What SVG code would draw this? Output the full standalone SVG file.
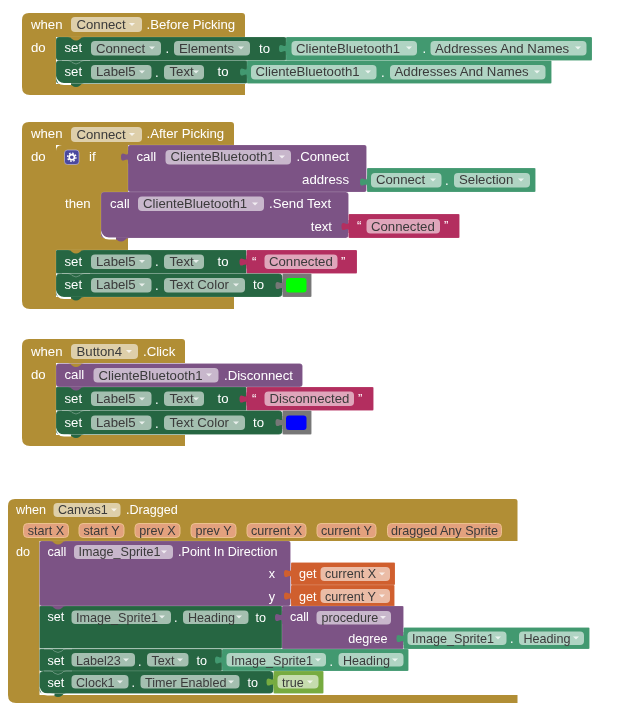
<svg xmlns="http://www.w3.org/2000/svg" width="630" height="715" viewBox="0 0 630 715">
<style>
text{font-family:"Liberation Sans",Arial,sans-serif;font-size:13.2px;fill:#fff}
.sm text{font-size:12.6px}
text.d{fill:#3a3a3a}
text.e{text-anchor:end}
text.m{text-anchor:middle}
.ev{fill:#b18e35}.st{fill:#266643}.pr{fill:#439970}.ca{fill:#7c5385}.tx{fill:#b32d5e}.gr{fill:#777}.lo{fill:#77ab41}.ge{fill:#d05f2d}
.b{stroke:#fff;stroke-opacity:.13;stroke-width:1}
.c{fill:#fff;fill-opacity:.58}
.p{fill:#e3a17e;stroke:#ecc08e;stroke-width:1}
.l{fill:none;stroke:#fff;stroke-opacity:.28;stroke-width:1}
#ar{fill:#fff;fill-opacity:.75}
</style>
<defs>
<path id="ar" d="M-3 -1.5H3L0 1.5Z"/>
<path id="tab" d="M1 0H0V2C0 8 -7 -2 -7 6.5S0 5 0 11V13H1Z"/>
<path id="bump" d="M-8 0Q-5 0 -4 2Q0 5 4 2Q5 0 8 0Z"/>
<path id="edge" class="l" d="M-14 0H-8Q-5 0 -4 2Q0 5 4 2Q5 0 8 0H14"/>
<path id="cres" fill="#fff" d="M0 -7Q0 2 8 2H15V0H8Q2 0 0 -7Z"/>
<filter id="soft" x="0" y="0" width="1" height="1"><feGaussianBlur stdDeviation="0.3"/></filter>
</defs>
<rect width="630" height="715" fill="#fff"/>
<g filter="url(#soft)">

<g id="block-connect-before-picking">
<path class="ev" d="M22 20Q22 13 29 13H242Q245 13 245 16V37H56V84H245V95H30Q22 95 22 87Z"/>
<text x="31" y="29">when</text>
<rect class="c" x="71" y="17" width="71" height="15" rx="4"/><text class="d" x="76.5" y="29">Connect</text><use href="#ar" x="132" y="24.5"/>
<text x="146.5" y="29">.Before Picking</text>
<text x="31" y="52">do</text>
<rect class="st b" x="56" y="37" width="231" height="23.5" rx="3"/>
<rect class="st b" x="56" y="60.5" width="192" height="23" rx="3"/>
<use href="#bump" class="ev" x="76" y="37"/><use href="#edge" x="76" y="60.5"/><use href="#bump" class="st" x="76" y="83.5"/>
<use href="#cres" x="56" y="83"/>
<text x="64.5" y="52">set</text>
<rect class="c" x="91" y="41" width="70" height="14.5" rx="4"/><text class="d" x="96" y="52.5">Connect</text><use href="#ar" x="152" y="48"/>
<text x="165.5" y="53">.</text>
<rect class="c" x="174" y="41" width="76" height="14.5" rx="4"/><text class="d" x="179" y="52.5">Elements</text><use href="#ar" x="241" y="48"/>
<text x="259" y="52.5">to</text>
<rect class="pr b" x="286" y="37" width="306" height="23.5" rx="1"/><use href="#tab" class="pr" x="286" y="42"/>
<rect class="c" x="291.5" y="41" width="125.5" height="14.5" rx="4"/><text class="d" x="296" y="52.5">ClienteBluetooth1</text><use href="#ar" x="409" y="48"/>
<text x="422.5" y="53">.</text>
<rect class="c" x="430.5" y="41" width="156" height="14.5" rx="4"/><text class="d" x="435" y="52.5">Addresses And Names</text><use href="#ar" x="578" y="48"/>
<text x="64.5" y="76">set</text>
<rect class="c" x="91" y="65" width="60.5" height="14.5" rx="4"/><text class="d" x="96" y="76">Label5</text><use href="#ar" x="142" y="72"/>
<text x="155" y="76.5">.</text>
<rect class="c" x="164" y="65" width="40" height="14.5" rx="4"/><text class="d" x="169.5" y="76">Text</text><use href="#ar" x="196" y="72"/>
<text x="217.5" y="76">to</text>
<rect class="pr b" x="247" y="60.5" width="304.5" height="23" rx="1"/><use href="#tab" class="pr" x="247" y="65.5"/>
<rect class="c" x="251" y="65" width="125.5" height="14.5" rx="4"/><text class="d" x="255.5" y="76">ClienteBluetooth1</text><use href="#ar" x="368" y="72"/>
<text x="381" y="76.5">.</text>
<rect class="c" x="390" y="65" width="155.5" height="14.5" rx="4"/><text class="d" x="394.5" y="76">Addresses And Names</text><use href="#ar" x="537" y="72"/>
</g>

<g id="block-connect-after-picking">
<path class="ev" d="M22 129Q22 122 29 122H231Q234 122 234 125V145H56V297H234V309H30Q22 309 22 301Z"/>
<text x="31" y="138">when</text>
<rect class="c" x="71" y="127" width="71" height="15" rx="4"/><text class="d" x="76.5" y="138.5">Connect</text><use href="#ar" x="132" y="134.5"/>
<text x="146.5" y="138">.After Picking</text>
<text x="31" y="160.5">do</text>
<g id="block-if">
<path class="ev" d="M56 151Q56 145 62 145H128V250H56Z"/>
<rect x="64.5" y="150" width="14.5" height="14.5" rx="3" fill="#4b4a9e" stroke="#c9c5e8" stroke-width=".6"/>
<circle cx="71.8" cy="157.2" r="2.6" fill="none" stroke="#fff" stroke-width="1.6"/>
<circle cx="71.8" cy="157.2" r="4.1" fill="none" stroke="#fff" stroke-width="1.4" stroke-dasharray="1.6 1.6"/>
<text x="89" y="160.5">if</text>
<text x="65" y="207.5">then</text>
</g>
<g id="block-call-connect">
<rect class="ca b" x="128" y="145" width="238.5" height="47" rx="2"/><use href="#tab" class="ca" x="128" y="150.5"/>
<text x="136.5" y="160.5">call</text>
<rect class="c" x="165.5" y="150" width="125.5" height="14.5" rx="4"/><text class="d" x="170.5" y="161">ClienteBluetooth1</text><use href="#ar" x="282" y="157"/>
<text x="296.5" y="161">.Connect</text>
<text class="e" x="349" y="184">address</text>
<rect class="pr b" x="367" y="168" width="168.5" height="24" rx="1"/><use href="#tab" class="pr" x="367" y="175.5"/>
<rect class="c" x="371" y="173" width="70.5" height="14.5" rx="4"/><text class="d" x="376" y="184">Connect</text><use href="#ar" x="433" y="180"/>
<text x="445" y="184.5">.</text>
<rect class="c" x="454" y="173" width="76" height="14.5" rx="4"/><text class="d" x="459" y="184">Selection</text><use href="#ar" x="521" y="180"/>
</g>
<g id="block-call-send-text">
<rect class="ca b" x="101" y="192" width="247.5" height="46" rx="3"/>
<use href="#bump" class="ca" x="121" y="238"/><use href="#cres" x="101" y="237.5"/>
<text x="110" y="208">call</text>
<rect class="c" x="138" y="196.5" width="126" height="14.5" rx="4"/><text class="d" x="143" y="208">ClienteBluetooth1</text><use href="#ar" x="255" y="204"/>
<text x="269" y="208">.Send Text</text>
<text class="e" x="332" y="230.5">text</text>
<rect class="tx b" x="348.5" y="214" width="111" height="24" rx="1"/><use href="#tab" class="tx" x="348.5" y="220"/>
<text x="357" y="230">“</text>
<rect class="c" x="366.5" y="219" width="73.5" height="14.5" rx="4"/><text class="d" x="371" y="230.5">Connected</text>
<text x="444" y="230">”</text>
</g>
<g id="block-set-label5-text-a">
<rect class="st b" x="56" y="250" width="190.5" height="23.5" rx="1"/><use href="#bump" class="ev" x="76" y="250"/>
<text x="64.5" y="265.5">set</text>
<rect class="c" x="91" y="254.5" width="60.5" height="14.5" rx="4"/><text class="d" x="96" y="265.5">Label5</text><use href="#ar" x="142" y="261.5"/>
<text x="155" y="266">.</text>
<rect class="c" x="164" y="254.5" width="40" height="14.5" rx="4"/><text class="d" x="169.5" y="265.5">Text</text><use href="#ar" x="196" y="261.5"/>
<text x="217.5" y="265.5">to</text>
<rect class="tx b" x="246.5" y="250" width="110.5" height="23.5" rx="1"/><use href="#tab" class="tx" x="246.5" y="255.5"/>
<text x="252" y="265.5">“</text>
<rect class="c" x="264.5" y="254.5" width="73" height="14.5" rx="4"/><text class="d" x="269" y="265.5">Connected</text>
<text x="341" y="265.5">”</text>
</g>
<g id="block-set-label5-color-a">
<rect class="st b" x="56" y="273.5" width="226.5" height="23.5" rx="4"/><use href="#edge" x="76" y="273.5"/><use href="#bump" class="st" x="76" y="297"/>
<use href="#cres" x="56" y="297"/>
<text x="64.5" y="289">set</text>
<rect class="c" x="91" y="278" width="60.5" height="14.5" rx="4"/><text class="d" x="96" y="289">Label5</text><use href="#ar" x="142" y="285"/>
<text x="155" y="289.5">.</text>
<rect class="c" x="164" y="278" width="81" height="14.5" rx="4"/><text class="d" x="169.5" y="289">Text Color</text><use href="#ar" x="236" y="285"/>
<text x="253" y="289">to</text>
<rect class="gr b" x="282.5" y="273.5" width="29" height="23.5" rx="1"/><use href="#tab" class="gr" x="282.5" y="279"/>
<rect x="286" y="278" width="20.5" height="14.5" rx="3" fill="#0f0"/>
</g>
</g>

<g id="block-button4-click">
<path class="ev" d="M22 346Q22 339 29 339H182Q185 339 185 342V363H56V435H185V446H30Q22 446 22 438Z"/>
<text x="31" y="356">when</text>
<rect class="c" x="71" y="344" width="67" height="15" rx="4"/><text class="d" x="76.5" y="356">Button4</text><use href="#ar" x="129" y="351.5"/>
<text x="143" y="356">.Click</text>
<text x="31" y="379">do</text>
<rect class="ca b" x="56" y="363.5" width="246.5" height="23.5" rx="3"/><use href="#bump" class="ev" x="76" y="363.5"/>
<text x="64.5" y="379">call</text>
<rect class="c" x="93.5" y="368" width="125" height="14.5" rx="4"/><text class="d" x="98.5" y="379.5">ClienteBluetooth1</text><use href="#ar" x="209" y="375"/>
<text x="224" y="379.5">.Disconnect</text>
<rect class="st b" x="56" y="387" width="190.5" height="23.5" rx="1"/><use href="#bump" class="ca" x="76" y="387"/>
<text x="64.5" y="403">set</text>
<rect class="c" x="91" y="391.5" width="60.5" height="14.5" rx="4"/><text class="d" x="96" y="403">Label5</text><use href="#ar" x="142" y="399"/>
<text x="155" y="403.5">.</text>
<rect class="c" x="164" y="391.5" width="40" height="14.5" rx="4"/><text class="d" x="169.5" y="403">Text</text><use href="#ar" x="196" y="399"/>
<text x="217.5" y="403">to</text>
<rect class="tx b" x="246.5" y="387" width="127" height="23.5" rx="1"/><use href="#tab" class="tx" x="246.5" y="392.5"/>
<text x="252" y="403">“</text>
<rect class="c" x="264.5" y="391.5" width="89.5" height="14.5" rx="4"/><text class="d" x="269.5" y="403">Disconnected</text>
<text x="358" y="403">”</text>
<rect class="st b" x="56" y="410.5" width="226.5" height="24" rx="4"/><use href="#edge" x="76" y="410.5"/><use href="#bump" class="st" x="76" y="434.5"/>
<use href="#cres" x="56" y="434.5"/>
<text x="64.5" y="427">set</text>
<rect class="c" x="91" y="415.5" width="60.5" height="14.5" rx="4"/><text class="d" x="96" y="427">Label5</text><use href="#ar" x="142" y="423"/>
<text x="155" y="427.5">.</text>
<rect class="c" x="164" y="415.5" width="81" height="14.5" rx="4"/><text class="d" x="169.5" y="427">Text Color</text><use href="#ar" x="236" y="423"/>
<text x="253" y="427">to</text>
<rect class="gr b" x="282.5" y="410.5" width="29" height="24" rx="1"/><use href="#tab" class="gr" x="282.5" y="416"/>
<rect x="286" y="415.5" width="20.5" height="14.5" rx="3" fill="#00f"/>
</g>

<g id="block-canvas1-dragged" class="sm">
<path class="ev" d="M8 506Q8 499 15 499H515Q517.5 499 517.5 501V541H39.5V695H517.5V703H16Q8 703 8 695Z"/>
<text x="16" y="513.5">when</text>
<rect class="c" x="53.5" y="503" width="67" height="14" rx="4"/><text class="d" x="58" y="513.5">Canvas1</text><use href="#ar" x="114" y="510"/>
<text x="126" y="513.5">.Dragged</text>
<rect class="p" x="23.5" y="523.5" width="45" height="14" rx="4"/><text class="d m" x="46" y="535">start X</text>
<rect class="p" x="79" y="523.5" width="45" height="14" rx="4"/><text class="d m" x="101.5" y="535">start Y</text>
<rect class="p" x="135" y="523.5" width="45" height="14" rx="4"/><text class="d m" x="157.5" y="535">prev X</text>
<rect class="p" x="191" y="523.5" width="45" height="14" rx="4"/><text class="d m" x="213.5" y="535">prev Y</text>
<rect class="p" x="247" y="523.5" width="59" height="14" rx="4"/><text class="d m" x="276.5" y="535">current X</text>
<rect class="p" x="317" y="523.5" width="59" height="14" rx="4"/><text class="d m" x="346.5" y="535">current Y</text>
<rect class="p" x="387.5" y="523.5" width="114" height="14" rx="4"/><text class="d m" x="444.5" y="535">dragged Any Sprite</text>
<text x="16" y="556">do</text>
<g id="block-call-point">
<rect class="ca b" x="39.5" y="541" width="251" height="65" rx="2"/><use href="#bump" class="ev" x="58" y="541"/>
<text x="47.5" y="556">call</text>
<rect class="c" x="74" y="545" width="99" height="14" rx="4"/><text class="d" x="78.5" y="556">Image_Sprite1</text><use href="#ar" x="164" y="552"/>
<text x="178" y="556">.Point In Direction</text>
<text class="e" x="275" y="578">x</text>
<text class="e" x="275" y="601">y</text>
<rect class="ge b" x="291" y="562.5" width="104" height="22.5" rx="1"/><use href="#tab" class="ge" x="291" y="567"/>
<text x="299" y="578">get</text>
<rect class="c" x="320.5" y="567" width="69.5" height="14" rx="4"/><text class="d" x="325" y="578">current X</text><use href="#ar" x="382" y="574"/>
<rect class="ge b" x="291" y="585" width="103.5" height="22" rx="1"/><use href="#tab" class="ge" x="291" y="589.5"/>
<text x="299" y="601">get</text>
<rect class="c" x="320.5" y="589" width="69.5" height="14" rx="4"/><text class="d" x="325" y="601">current Y</text><use href="#ar" x="382" y="596"/>
</g>
<g id="block-set-heading">
<rect class="st b" x="39.5" y="606" width="242.5" height="42.5" rx="1"/><use href="#bump" class="ca" x="58" y="606"/>
<text x="47.5" y="621">set</text>
<rect class="c" x="71.5" y="610.5" width="99.5" height="13.5" rx="4"/><text class="d" x="76" y="621.5">Image_Sprite1</text><use href="#ar" x="162" y="617"/>
<text x="174" y="622">.</text>
<rect class="c" x="183" y="610.5" width="65.5" height="13.5" rx="4"/><text class="d" x="188" y="621.5">Heading</text><use href="#ar" x="239" y="617"/>
<text x="255.5" y="621.5">to</text>
<rect class="ca b" x="282" y="606" width="121.5" height="43" rx="1"/><use href="#tab" class="ca" x="282" y="611"/>
<text x="290" y="621">call</text>
<rect class="c" x="316.5" y="611" width="74.5" height="13.5" rx="4"/><text class="d" x="321.5" y="621.5">procedure</text><use href="#ar" x="383" y="617.5"/>
<text class="e" x="387.5" y="642.5">degree</text>
<rect class="pr b" x="403.5" y="627.5" width="186" height="21.5" rx="1"/><use href="#tab" class="pr" x="403.5" y="632"/>
<rect class="c" x="407.5" y="631.5" width="99" height="13.5" rx="4"/><text class="d" x="412" y="642.5">Image_Sprite1</text><use href="#ar" x="498" y="638"/>
<text x="510" y="643">.</text>
<rect class="c" x="519" y="631.5" width="65" height="13.5" rx="4"/><text class="d" x="523.5" y="642.5">Heading</text><use href="#ar" x="576" y="638"/>
</g>
<g id="block-set-label23">
<rect class="st b" x="39.5" y="649" width="182.5" height="22" rx="1"/><use href="#edge" x="58" y="649"/>
<text x="47.5" y="665">set</text>
<rect class="c" x="71.5" y="653" width="63.5" height="13.5" rx="4"/><text class="d" x="76" y="664.5">Label23</text><use href="#ar" x="126" y="660"/>
<text x="138" y="665.5">.</text>
<rect class="c" x="147" y="653" width="41.5" height="13.5" rx="4"/><text class="d" x="151.5" y="664.5">Text</text><use href="#ar" x="180" y="660"/>
<text x="196.5" y="664.5">to</text>
<rect class="pr b" x="222" y="649" width="186.5" height="22" rx="1"/><use href="#tab" class="pr" x="222" y="653.5"/>
<rect class="c" x="226.5" y="653" width="99.5" height="13.5" rx="4"/><text class="d" x="231" y="664.5">Image_Sprite1</text><use href="#ar" x="318" y="660"/>
<text x="329.5" y="665.5">.</text>
<rect class="c" x="338.5" y="653" width="65" height="13.5" rx="4"/><text class="d" x="343" y="664.5">Heading</text><use href="#ar" x="395" y="660"/>
</g>
<g id="block-set-clock1">
<rect class="st b" x="39.5" y="671" width="234" height="22.5" rx="4"/><use href="#edge" x="58" y="671"/><use href="#bump" class="st" x="58" y="693.5"/>
<use href="#cres" x="39.5" y="693.5"/>
<text x="47.5" y="686.5">set</text>
<rect class="c" x="71.5" y="675" width="57" height="13.5" rx="4"/><text class="d" x="76" y="686.5">Clock1</text><use href="#ar" x="120" y="682"/>
<text x="131.5" y="687">.</text>
<rect class="c" x="140.5" y="675" width="99" height="13.5" rx="4"/><text class="d" x="145" y="686.5">Timer Enabled</text><use href="#ar" x="231" y="682"/>
<text x="247.5" y="686.5">to</text>
<rect class="lo b" x="273.5" y="671" width="50" height="22.5" rx="1"/><use href="#tab" class="lo" x="273.5" y="675.5"/>
<rect class="c" x="277.5" y="675" width="41" height="13.5" rx="4"/><text class="d" x="282" y="686.5">true</text><use href="#ar" x="310" y="682"/>
</g>
</g>

</g>
</svg>
